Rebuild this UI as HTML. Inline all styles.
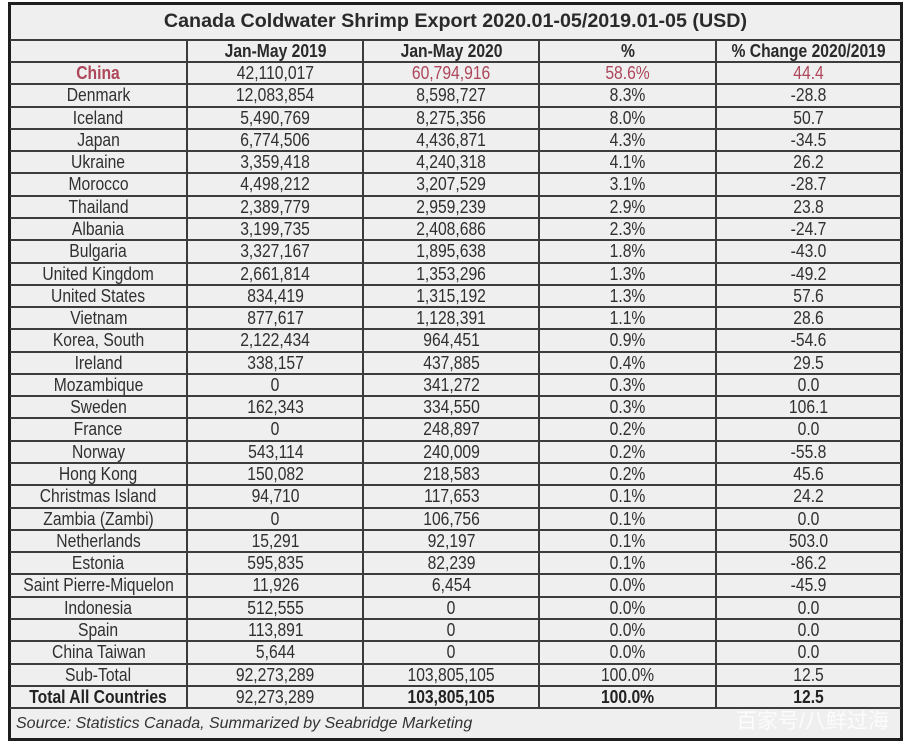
<!DOCTYPE html>
<html><head><meta charset="utf-8"><style>
html,body{margin:0;padding:0;background:#fff;}
body{width:907px;height:744px;position:relative;overflow:hidden;font-family:"Liberation Sans",Arial,sans-serif;color:#303030;}
.frame{position:absolute;left:8px;top:2px;width:889px;height:733px;border:3px solid #1e1e1e;background:#efefef;}
.title{position:absolute;left:10px;width:891px;top:3px;height:37px;line-height:37px;text-align:center;font-weight:bold;font-size:19.7px;color:#2a2a2a;}
.hl{position:absolute;left:10px;width:891px;height:2px;background:#3c3c3c;}
.vl{position:absolute;top:40px;height:668px;width:2px;background:#3c3c3c;}
.r{position:absolute;left:0;width:907px;height:22.28px;line-height:22.28px;font-size:18px;}
.r span{position:absolute;top:0;text-align:center;white-space:nowrap;}
.r span i{font-style:normal;display:inline-block;transform:scaleX(.87);}
.a{left:10px;width:177px;}
.b{left:188px;width:175px;}
.c{left:364px;width:175px;}
.d{left:540px;width:176px;}
.e{left:717px;width:184px;}
.h{font-weight:bold;color:#2a2a2a;}
.red{color:#ad465a;}
.bold{font-weight:bold;color:#222;}
.src{position:absolute;left:16px;top:709px;height:30px;line-height:30px;font-size:16px;font-style:italic;color:#333;}
.wm{position:absolute;left:736px;top:708px;font-size:21px;line-height:28px;letter-spacing:0;white-space:nowrap;color:rgba(255,255,255,.8);font-family:"Liberation Sans","Noto Sans CJK SC",sans-serif;}
</style></head><body>
<div class="frame"></div>
<div class="title">Canada Coldwater Shrimp Export 2020.01-05/2019.01-05 (USD)</div>
<div class="hl" style="top:39px"></div>
<div class="hl" style="top:61px"></div>
<div class="hl" style="top:83.28px"></div>
<div class="hl" style="top:105.56px"></div>
<div class="hl" style="top:127.84px"></div>
<div class="hl" style="top:150.12px"></div>
<div class="hl" style="top:172.4px"></div>
<div class="hl" style="top:194.68px"></div>
<div class="hl" style="top:216.96px"></div>
<div class="hl" style="top:239.24px"></div>
<div class="hl" style="top:261.52px"></div>
<div class="hl" style="top:283.8px"></div>
<div class="hl" style="top:306.08px"></div>
<div class="hl" style="top:328.36px"></div>
<div class="hl" style="top:350.64px"></div>
<div class="hl" style="top:372.92px"></div>
<div class="hl" style="top:395.2px"></div>
<div class="hl" style="top:417.48px"></div>
<div class="hl" style="top:439.76px"></div>
<div class="hl" style="top:462.04px"></div>
<div class="hl" style="top:484.32px"></div>
<div class="hl" style="top:506.6px"></div>
<div class="hl" style="top:528.88px"></div>
<div class="hl" style="top:551.16px"></div>
<div class="hl" style="top:573.44px"></div>
<div class="hl" style="top:595.72px"></div>
<div class="hl" style="top:618px"></div>
<div class="hl" style="top:640.28px"></div>
<div class="hl" style="top:662.56px"></div>
<div class="hl" style="top:684.84px"></div>
<div class="hl" style="top:707.12px"></div>
<div class="vl" style="left:186px"></div>
<div class="vl" style="left:362px"></div>
<div class="vl" style="left:538px"></div>
<div class="vl" style="left:715px"></div>

<div class="r h" style="top:40px;height:22px;line-height:22px"><span class="b"><i>Jan-May 2019</i></span><span class="c"><i>Jan-May 2020</i></span><span class="d"><i>%</i></span><span class="e"><i>% Change 2020/2019</i></span></div>

<div class="r red" style="top:62px"><span class="a" style="font-weight:bold"><i>China</i></span><span class="b" style="color:#303030"><i>42,110,017</i></span><span class="c"><i>60,794,916</i></span><span class="d"><i>58.6%</i></span><span class="e"><i>44.4</i></span></div>
<div class="r" style="top:84.28px"><span class="a"><i>Denmark</i></span><span class="b"><i>12,083,854</i></span><span class="c"><i>8,598,727</i></span><span class="d"><i>8.3%</i></span><span class="e"><i>-28.8</i></span></div>
<div class="r" style="top:106.56px"><span class="a"><i>Iceland</i></span><span class="b"><i>5,490,769</i></span><span class="c"><i>8,275,356</i></span><span class="d"><i>8.0%</i></span><span class="e"><i>50.7</i></span></div>
<div class="r" style="top:128.84px"><span class="a"><i>Japan</i></span><span class="b"><i>6,774,506</i></span><span class="c"><i>4,436,871</i></span><span class="d"><i>4.3%</i></span><span class="e"><i>-34.5</i></span></div>
<div class="r" style="top:151.12px"><span class="a"><i>Ukraine</i></span><span class="b"><i>3,359,418</i></span><span class="c"><i>4,240,318</i></span><span class="d"><i>4.1%</i></span><span class="e"><i>26.2</i></span></div>
<div class="r" style="top:173.4px"><span class="a"><i>Morocco</i></span><span class="b"><i>4,498,212</i></span><span class="c"><i>3,207,529</i></span><span class="d"><i>3.1%</i></span><span class="e"><i>-28.7</i></span></div>
<div class="r" style="top:195.68px"><span class="a"><i>Thailand</i></span><span class="b"><i>2,389,779</i></span><span class="c"><i>2,959,239</i></span><span class="d"><i>2.9%</i></span><span class="e"><i>23.8</i></span></div>
<div class="r" style="top:217.96px"><span class="a"><i>Albania</i></span><span class="b"><i>3,199,735</i></span><span class="c"><i>2,408,686</i></span><span class="d"><i>2.3%</i></span><span class="e"><i>-24.7</i></span></div>
<div class="r" style="top:240.24px"><span class="a"><i>Bulgaria</i></span><span class="b"><i>3,327,167</i></span><span class="c"><i>1,895,638</i></span><span class="d"><i>1.8%</i></span><span class="e"><i>-43.0</i></span></div>
<div class="r" style="top:262.52px"><span class="a"><i>United Kingdom</i></span><span class="b"><i>2,661,814</i></span><span class="c"><i>1,353,296</i></span><span class="d"><i>1.3%</i></span><span class="e"><i>-49.2</i></span></div>
<div class="r" style="top:284.8px"><span class="a"><i>United States</i></span><span class="b"><i>834,419</i></span><span class="c"><i>1,315,192</i></span><span class="d"><i>1.3%</i></span><span class="e"><i>57.6</i></span></div>
<div class="r" style="top:307.08px"><span class="a"><i>Vietnam</i></span><span class="b"><i>877,617</i></span><span class="c"><i>1,128,391</i></span><span class="d"><i>1.1%</i></span><span class="e"><i>28.6</i></span></div>
<div class="r" style="top:329.36px"><span class="a"><i>Korea, South</i></span><span class="b"><i>2,122,434</i></span><span class="c"><i>964,451</i></span><span class="d"><i>0.9%</i></span><span class="e"><i>-54.6</i></span></div>
<div class="r" style="top:351.64px"><span class="a"><i>Ireland</i></span><span class="b"><i>338,157</i></span><span class="c"><i>437,885</i></span><span class="d"><i>0.4%</i></span><span class="e"><i>29.5</i></span></div>
<div class="r" style="top:373.92px"><span class="a"><i>Mozambique</i></span><span class="b"><i>0</i></span><span class="c"><i>341,272</i></span><span class="d"><i>0.3%</i></span><span class="e"><i>0.0</i></span></div>
<div class="r" style="top:396.2px"><span class="a"><i>Sweden</i></span><span class="b"><i>162,343</i></span><span class="c"><i>334,550</i></span><span class="d"><i>0.3%</i></span><span class="e"><i>106.1</i></span></div>
<div class="r" style="top:418.48px"><span class="a"><i>France</i></span><span class="b"><i>0</i></span><span class="c"><i>248,897</i></span><span class="d"><i>0.2%</i></span><span class="e"><i>0.0</i></span></div>
<div class="r" style="top:440.76px"><span class="a"><i>Norway</i></span><span class="b"><i>543,114</i></span><span class="c"><i>240,009</i></span><span class="d"><i>0.2%</i></span><span class="e"><i>-55.8</i></span></div>
<div class="r" style="top:463.04px"><span class="a"><i>Hong Kong</i></span><span class="b"><i>150,082</i></span><span class="c"><i>218,583</i></span><span class="d"><i>0.2%</i></span><span class="e"><i>45.6</i></span></div>
<div class="r" style="top:485.32px"><span class="a"><i>Christmas Island</i></span><span class="b"><i>94,710</i></span><span class="c"><i>117,653</i></span><span class="d"><i>0.1%</i></span><span class="e"><i>24.2</i></span></div>
<div class="r" style="top:507.6px"><span class="a"><i>Zambia (Zambi)</i></span><span class="b"><i>0</i></span><span class="c"><i>106,756</i></span><span class="d"><i>0.1%</i></span><span class="e"><i>0.0</i></span></div>
<div class="r" style="top:529.88px"><span class="a"><i>Netherlands</i></span><span class="b"><i>15,291</i></span><span class="c"><i>92,197</i></span><span class="d"><i>0.1%</i></span><span class="e"><i>503.0</i></span></div>
<div class="r" style="top:552.16px"><span class="a"><i>Estonia</i></span><span class="b"><i>595,835</i></span><span class="c"><i>82,239</i></span><span class="d"><i>0.1%</i></span><span class="e"><i>-86.2</i></span></div>
<div class="r" style="top:574.44px"><span class="a"><i>Saint Pierre-Miquelon</i></span><span class="b"><i>11,926</i></span><span class="c"><i>6,454</i></span><span class="d"><i>0.0%</i></span><span class="e"><i>-45.9</i></span></div>
<div class="r" style="top:596.72px"><span class="a"><i>Indonesia</i></span><span class="b"><i>512,555</i></span><span class="c"><i>0</i></span><span class="d"><i>0.0%</i></span><span class="e"><i>0.0</i></span></div>
<div class="r" style="top:619px"><span class="a"><i>Spain</i></span><span class="b"><i>113,891</i></span><span class="c"><i>0</i></span><span class="d"><i>0.0%</i></span><span class="e"><i>0.0</i></span></div>
<div class="r" style="top:641.28px"><span class="a"><i>China Taiwan</i></span><span class="b"><i>5,644</i></span><span class="c"><i>0</i></span><span class="d"><i>0.0%</i></span><span class="e"><i>0.0</i></span></div>
<div class="r" style="top:663.56px"><span class="a"><i>Sub-Total</i></span><span class="b"><i>92,273,289</i></span><span class="c"><i>103,805,105</i></span><span class="d"><i>100.0%</i></span><span class="e"><i>12.5</i></span></div>
<div class="r" style="top:685.84px"><span class="a bold"><i>Total All Countries</i></span><span class="b"><i>92,273,289</i></span><span class="c bold"><i>103,805,105</i></span><span class="d bold"><i>100.0%</i></span><span class="e bold"><i>12.5</i></span></div>

<div class="src">Source: Statistics Canada, Summarized by Seabridge Marketing</div>
<div class="wm">百家号/八鲜过海</div>
</body></html>
